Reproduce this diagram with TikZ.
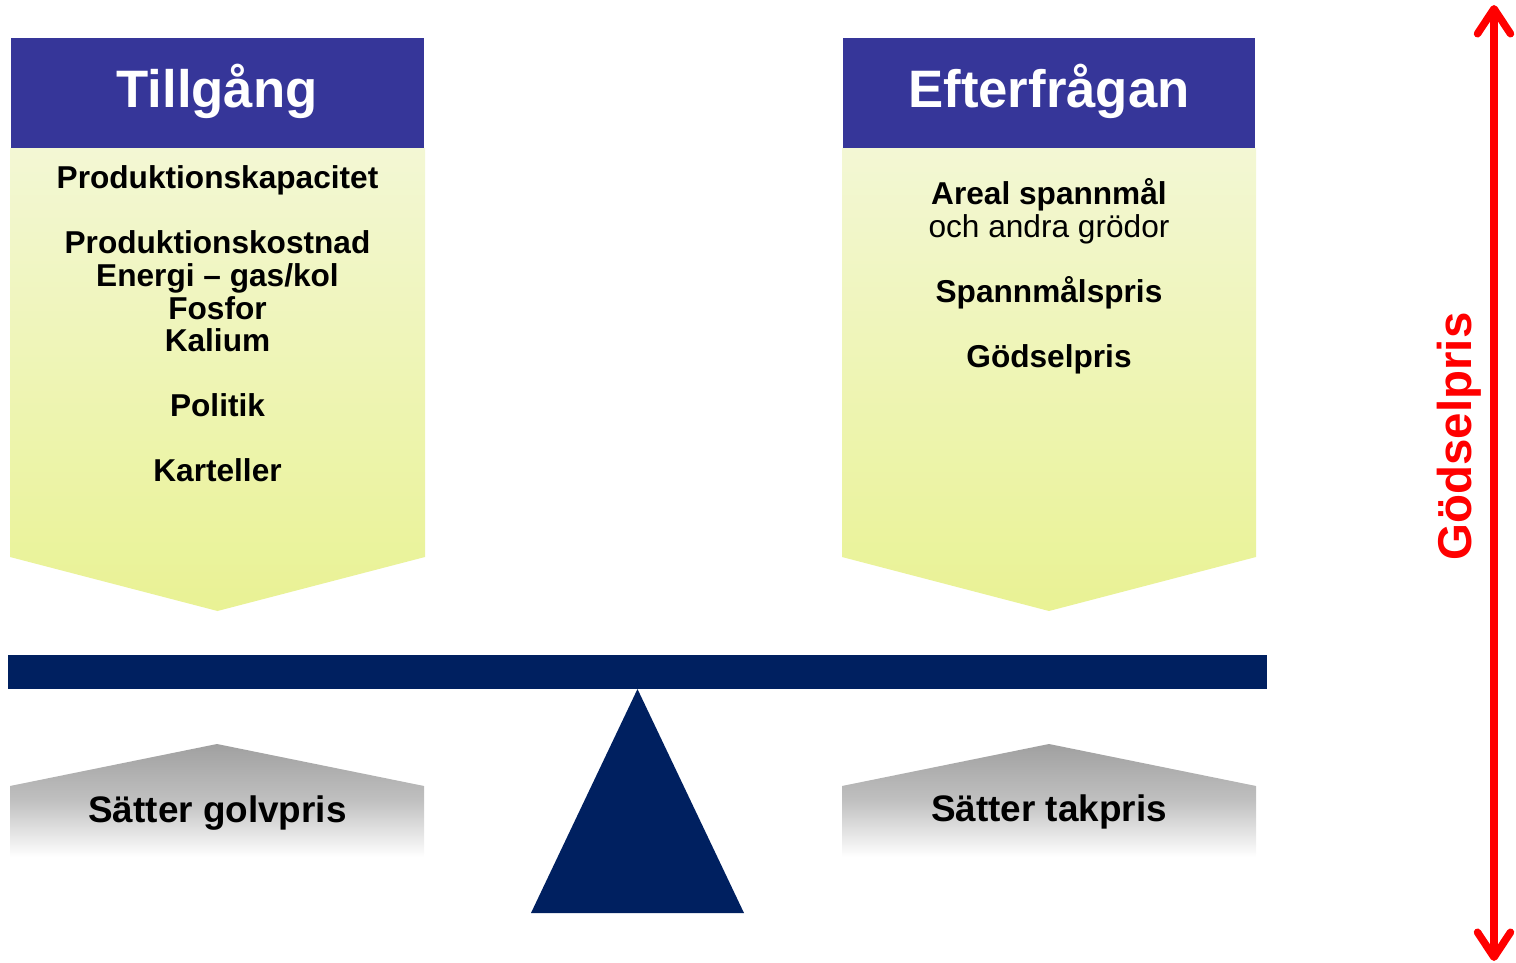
\documentclass[tikz,border=0pt]{standalone}
\usepackage{fontspec}
\setmainfont{Liberation Sans}
\usetikzlibrary{arrows.meta}
\definecolor{headblue}{RGB}{54,54,153}
\definecolor{beamblue}{RGB}{0,32,96}
\definecolor{yeltop}{RGB}{243,247,212}
\definecolor{yelbot}{RGB}{233,242,148}
\definecolor{limitgray}{RGB}{160,160,160}
\definecolor{limitmid}{RGB}{192,192,192}
\tikzset{
	header/.style={fill=headblue},
	headtext/.style={anchor=base, text=white, font=\bfseries\fontsize{30}{36}\selectfont},
	itemtext/.style={anchor=base, font=\bfseries\fontsize{18}{22}\selectfont},
	plaintext/.style={anchor=base, font=\fontsize{18}{22}\selectfont},
	factor/.style={top color=yeltop, bottom color=yelbot},
	limit/.style={top color=limitgray, bottom color=white, middle color=limitmid},
	limittext/.style={anchor=base, font=\bfseries\fontsize{21}{25}\selectfont},
	pricearrow/.style={draw=red, line width=0.15cm, {Straight Barb[length=0.5cm, width=0.66cm, round]}-{Straight Barb[length=0.5cm, width=0.66cm, round]}},
	pricetext/.style={anchor=base, rotate=90, text=red, font=\bfseries\fontsize{27}{32}\selectfont}
}
\begin{document}
\begin{tikzpicture}[x=0.02cm, y=-0.02cm]
	\useasboundingbox (0,0) rectangle (1516,963);
	\shade[factor] (10,148) -- (425,148) -- (425,557) -- (217.5,611) -- (10,557) -- cycle;
	\shade[factor] (842,148) -- (1256,148) -- (1256,557) -- (1049,611) -- (842,557) -- cycle;
	\fill[header] (11,38) rectangle (424,148);
	\fill[header] (843,38) rectangle (1255,148);
	\node[headtext] (supply) at (217,108) {Tillgång};
	\node[headtext] (demand) at (1049,108) {Efterfrågan};
	\foreach \y/\txt [count=\i] in {189/Produktionskapacitet, 254/Produktionskostnad, 286.5/{Energi -- gas/kol}, 319/Fosfor, 351.5/Kalium, 416.5/Politik, 481.5/Karteller}
		\node[itemtext] (sup\i) at (217.5,\y) {\txt};
	\node[itemtext] (dem1) at (1049,205) {Areal spannmål};
	\node[plaintext] (dem2) at (1049,237.5) {och andra grödor};
	\node[itemtext] (dem3) at (1049,302.5) {Spannmålspris};
	\node[itemtext] (dem4) at (1049,367.5) {Gödselpris};
	\fill[beamblue] (8,655) rectangle (1267,689);
	\fill[beamblue] (637.5,689) -- (744,913) -- (531,913) -- cycle;
	\shade[limit] (10,786) -- (217,744) -- (424,786) -- (424,857) -- (10,857) -- cycle;
	\shade[limit] (842,786) -- (1049,744) -- (1256,786) -- (1256,857) -- (842,857) -- cycle;
	\node[limittext] (floor) at (217.5,822) {Sätter golvpris};
	\node[limittext] (ceiling) at (1049,821) {Sätter takpris};
	\coordinate (ptop) at (1494,5);
	\coordinate (pbot) at (1494,961);
	\draw[pricearrow] (pbot) -- (ptop);
	\node[pricetext] (price) at (1471,436.5) {Gödselpris};
\end{tikzpicture}
\end{document}
